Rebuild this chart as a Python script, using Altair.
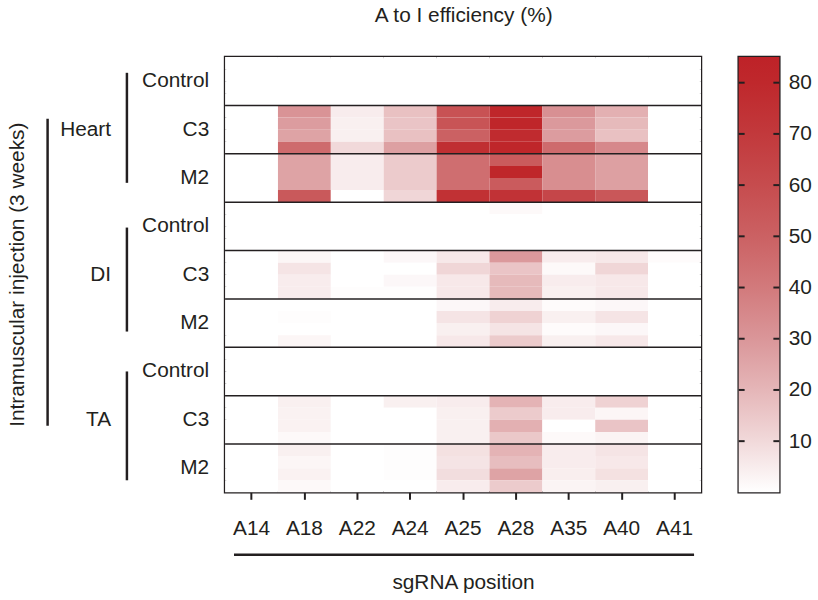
import altair as alt
import pandas as pd

FONT = "Liberation Sans"
INK = "#231F20"
FS = 21

positions = ["A14", "A18", "A22", "A24", "A25", "A28", "A35", "A40", "A41"]
tissues = ["Heart", "DI", "TA"]
conditions = ["Control", "C3", "M2"]

# A-to-I editing efficiency (%): four animals per group (one row each),
# one value per sgRNA adenosine position in the order of `positions`.
heart_control = [
    [0, 0, 0, 0, 0, 0, 0, 0, 0],
    [0, 0, 0, 0, 0, 0, 0, 0, 0],
    [0, 0, 0, 0, 0, 0, 0, 0, 0],
    [0, 0, 0, 0, 0, 0, 0, 0, 0],
]
heart_c3 = [
    [0, 31, 5, 17, 57, 82, 32, 22, 0],
    [0, 28, 4, 16, 56, 82, 29, 19, 0],
    [0, 26, 4, 17, 50, 78, 28, 17, 0],
    [0, 46, 10, 27, 76, 82, 46, 35, 0],
]
heart_m2 = [
    [0, 26, 5, 14, 45, 53, 33, 27, 0],
    [0, 26, 5, 14, 45, 82, 33, 27, 0],
    [0, 26, 5, 14, 45, 53, 33, 27, 0],
    [0, 54, 0, 11, 75, 74, 63, 55, 0],
]
di_control = [
    [0, 0, 0, 0, 0, 1.5, 0, 0, 0],
    [0, 0, 0, 0, 0, 0, 0, 0, 0],
    [0, 0, 0, 0, 0, 0, 0, 0, 0],
    [0, 0, 0, 0, 0, 0, 0, 0, 0],
]
di_c3 = [
    [0, 2.5, 0, 2, 6, 29, 5, 6, 1],
    [0, 7, 0, 0, 11, 16, 1.5, 11, 0],
    [0, 5, 0, 2, 6, 19, 5, 6, 0],
    [0, 5, 0.5, 0.5, 6, 19, 4, 6, 0],
]
di_m2 = [
    [0, 0, 0, 0, 2, 5, 1, 2, 0],
    [0, 0.5, 0, 0, 7, 12, 4, 7, 0],
    [0, 0, 0, 0, 4, 7, 1, 2, 0],
    [0, 2.5, 0, 0, 6, 14, 4, 6, 0],
]
ta_control = [
    [0, 0, 0, 0, 0, 0, 0, 0, 0],
    [0, 0, 0, 0, 0, 0, 0, 0, 0],
    [0, 0, 0, 0, 0, 0, 0, 0, 0],
    [0, 0, 0, 0, 0, 0, 0, 0, 0],
]
ta_c3 = [
    [0, 4, 0, 4, 5, 21, 5, 12, 0],
    [0, 3.5, 0, 0, 4, 14, 5, 2.5, 0],
    [0, 3.5, 0, 0, 4, 22, 0, 16, 0],
    [0, 1.5, 0, 0, 4, 15, 1.5, 3, 0],
]
ta_m2 = [
    [0, 4, 0, 0.5, 8, 21, 5, 7, 0],
    [0, 2.5, 0, 0.5, 7, 18, 5, 6, 0],
    [0, 3.5, 0, 0.5, 9, 26, 4.5, 8, 0],
    [0, 1.5, 0, 0, 5, 14, 3, 4, 0],
]

groups = [
    heart_control, heart_c3, heart_m2,
    di_control, di_c3, di_m2,
    ta_control, ta_c3, ta_m2,
]

# white-to-red colour ramp (value stops and their colours)
ramp_values = [0, 10, 20, 30, 40, 50, 60, 70, 80, 85]
ramp_colors = ["#FFFFFF", "#F1D9DA", "#E5B6B8", "#DA9699", "#D27A7C",
               "#CB6163", "#C64C4E", "#C2393C", "#BF282C", "#BE2228"]
colorbar_ticks = [10, 20, 30, 40, 50, 60, 70, 80]

# bracket spans in row units (rows counted from the top)
tissue_bracket_start = [1.3, 14.1, 26.0]
tissue_bracket_end = [10.4, 22.7, 35.0]
outer_bracket = [5.1, 30.5]

REPS = 4
n_rows = len(groups) * REPS

records = []
for g, block in enumerate(groups):
    for r, row_vals in enumerate(block):
        row = g * REPS + r
        for pos, v in zip(positions, row_vals):
            records.append({"position": pos, "row": row, "row_end": row + 1,
                            "efficiency": v})
cells_df = pd.DataFrame(records)

cond_df = pd.DataFrame({
    "label": conditions * len(tissues),
    "center": [g * REPS + REPS / 2 for g in range(len(groups))],
})
tissue_df = pd.DataFrame({
    "label": tissues,
    "center": [t * 3 * REPS + 1.5 * REPS for t in range(len(tissues))],
    "start": tissue_bracket_start,
    "end": tissue_bracket_end,
})
sep_df = pd.DataFrame({"y": [g * REPS for g in range(1, len(groups))]})

W, H = 480, 439
y_scale = alt.Scale(domain=[0, n_rows], reverse=True, nice=False, zero=False)
color_scale = alt.Scale(domain=ramp_values, range=ramp_colors, interpolate="rgb")

cells = alt.Chart(cells_df).mark_rect(strokeWidth=0).encode(
    x=alt.X("position:N", sort=positions,
            scale=alt.Scale(paddingInner=0, paddingOuter=0),
            axis=alt.Axis(title="sgRNA position", labelAngle=0, labelFontSize=FS,
                          labelFont=FONT, labelColor=INK, labelPadding=19,
                          tickSize=7, tickWidth=2, tickColor=INK, domain=False,
                          titleFont=FONT, titleFontSize=FS, titleFontWeight="normal",
                          titleColor=INK, titlePadding=33)),
    y=alt.Y("row:Q", scale=y_scale, axis=None),
    y2="row_end:Q",
    color=alt.Color("efficiency:Q", scale=color_scale, legend=None),
)

separators = alt.Chart(sep_df).mark_rule(color=INK, strokeWidth=1.5).encode(
    y=alt.Y("y:Q", scale=y_scale, axis=None)
)

cond_labels = alt.Chart(cond_df).mark_text(
    align="right", baseline="middle", fontSize=FS, font=FONT, color=INK
).encode(
    x=alt.value(-16),
    y=alt.Y("center:Q", scale=y_scale, axis=None),
    text="label:N",
)

tissue_labels = alt.Chart(tissue_df).mark_text(
    align="right", baseline="middle", fontSize=FS, font=FONT, color=INK
).encode(
    x=alt.value(-115),
    y=alt.Y("center:Q", scale=y_scale, axis=None),
    text="label:N",
)

tissue_brackets = alt.Chart(tissue_df).mark_rule(color=INK, strokeWidth=2.5).encode(
    x=alt.value(-99),
    y=alt.Y("start:Q", scale=y_scale, axis=None),
    y2="end:Q",
)

outer = alt.Chart(pd.DataFrame({"start": [outer_bracket[0]], "end": [outer_bracket[1]]})).mark_rule(
    color=INK, strokeWidth=2.5
).encode(
    x=alt.value(-179),
    y=alt.Y("start:Q", scale=y_scale, axis=None),
    y2="end:Q",
)

outer_title = alt.Chart(pd.DataFrame({"center": [n_rows / 2]})).mark_text(
    text="Intramuscular injection (3 weeks)", angle=270, align="center",
    baseline="middle", fontSize=FS, font=FONT, color=INK
).encode(
    x=alt.value(-209),
    y=alt.Y("center:Q", scale=y_scale, axis=None),
)

x_bracket = alt.Chart(pd.DataFrame({"k": [0]})).mark_rule(color=INK, strokeWidth=2.5).encode(
    x=alt.value(9), x2=alt.value(473), y=alt.value(502)
)

heatmap = alt.layer(
    cells, separators, cond_labels, tissue_labels, tissue_brackets,
    outer, outer_title, x_bracket
).properties(width=W, height=H)

# colour bar drawn with the same ramp
bar_max = ramp_values[-1]
bar_scale = alt.Scale(domain=[0, bar_max], nice=False, zero=True)
bar_axis = alt.Axis(orient="right", values=colorbar_ticks, title=None,
                    ticks=False, domain=False, grid=False, labelFontSize=FS,
                    labelFont=FONT, labelColor=INK, labelPadding=9)
gradient = alt.Gradient(
    gradient="linear", x1=0, x2=0, y1=1, y2=0,
    stops=[alt.GradientStop(offset=v / bar_max, color=c)
           for v, c in zip(ramp_values, ramp_colors)],
)
bar = alt.Chart(pd.DataFrame({"lo": [0], "hi": [bar_max]})).mark_rect(color=gradient).encode(
    x=alt.value(0), x2=alt.value(41),
    y=alt.Y("lo:Q", scale=bar_scale, axis=bar_axis),
    y2="hi:Q",
)
tick_df = pd.DataFrame({"v": colorbar_ticks})
ticks_l = alt.Chart(tick_df).mark_rule(color=INK, strokeWidth=2).encode(
    x=alt.value(0), x2=alt.value(6), y=alt.Y("v:Q", scale=bar_scale, axis=bar_axis)
)
ticks_r = alt.Chart(tick_df).mark_rule(color=INK, strokeWidth=2).encode(
    x=alt.value(35), x2=alt.value(41), y=alt.Y("v:Q", scale=bar_scale, axis=bar_axis)
)
colorbar = alt.layer(bar, ticks_l, ticks_r).properties(width=41, height=H)

chart = alt.hconcat(heatmap, colorbar, spacing=33).properties(
    title=alt.Title("A to I efficiency (%)", fontSize=FS, font=FONT,
                    fontWeight="normal", color=INK, anchor="middle",
                    dx=55, offset=30),
    background="white",
    padding={"left": 5, "top": 2, "right": 5, "bottom": 5},
).configure_view(stroke=INK, strokeWidth=2.5)

chart.save("out.html", embed_options={"renderer": "svg", "actions": False})
